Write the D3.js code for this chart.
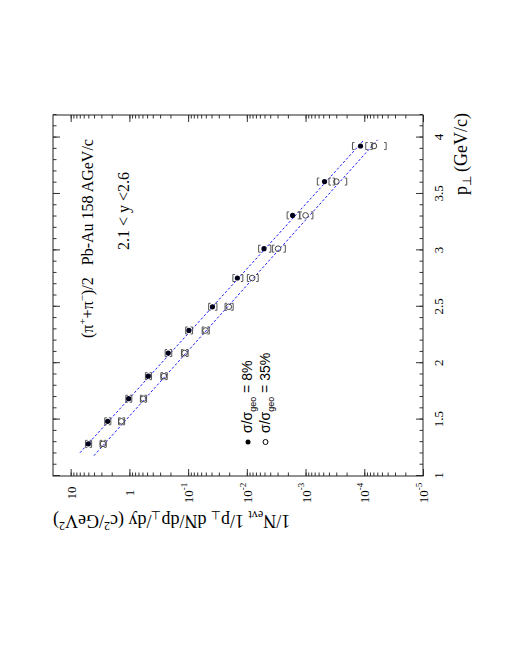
<!DOCTYPE html>
<html>
<head>
<meta charset="utf-8">
<script src="https://cdn.jsdelivr.net/npm/d3@7"></script>
<style>
body { margin: 0; background: #fff; }
svg text { font-family: "Liberation Serif", "Times New Roman", serif; fill: #000; }
.legend text { font-family: "Liberation Sans", Arial, sans-serif; }
</style>
</head>
<body>
<svg id="chart" width="510" height="660"></svg>
<script>
// transverse momentum of each bin (GeV/c)
var pt = [1.285, 1.485, 1.685, 1.885, 2.09, 2.29, 2.5, 2.755, 3.015, 3.31, 3.61, 3.925];

// sigma/sigma_geo = 8%
var yCentral   = [5.0, 2.35, 1.03, 0.477, 0.218, 0.097, 0.0385, 0.0145, 5.1e-3, 1.66e-3, 4.75e-4, 1.16e-4];
var errCentral = [0.60, 0.28, 0.12, 0.057, 0.028, 0.013, 0.0062, 0.0028, 1.2e-3, 4.0e-4, 1.55e-4, 4.3e-5];

// sigma/sigma_geo = 35%
var yPeriph   = [2.82, 1.37, 0.58, 0.259, 0.115, 0.0506, 0.0203, 8.1e-3, 2.94e-3, 1.0e-3, 2.99e-4, 6.84e-5];
var errPeriph = [0.34, 0.165, 0.07, 0.032, 0.015, 0.007, 0.0032, 1.7e-3, 7.3e-4, 2.5e-4, 1.0e-4, 2.6e-5];

// exponential fits (end points)
var fitPtCentral = [1.206, 3.97],  fitCentral = [6.95, 1.05e-4];
var fitPtPeriph  = [1.18, 3.98],   fitPeriph  = [4.02, 5.94e-5];

var xTicks = [1, 1.5, 2, 2.5, 3, 3.5, 4];
var yTicks = [1e-5, 1e-4, 1e-3, 1e-2, 1e-1, 1, 10];
var yTickLabels = [["10", "-5"], ["10", "-4"], ["10", "-3"], ["10", "-2"], ["10", "-1"], ["1", ""], ["10", ""]];

// the whole plot is drawn normally and then turned by -90 degrees
var frame = {left: 53, top: 115, right: 423, bottom: 476};
var width = frame.bottom - frame.top,
    height = frame.right - frame.left;

var svg = d3.select("#chart");
var chart = svg.append("g")
    .attr("transform", "translate(" + frame.left + "," + frame.bottom + ") rotate(-90)");

var xScale = d3.scaleLinear().domain([1, 4.2]).range([0, width]);
var yScale = d3.scaleLog().domain([1e-5, 20]).range([height, 0]);

var xMinor = xScale.ticks(32);
var yMinor = yScale.ticks().filter(function(d) { return d < 19.9; });

function clean(g) {
  g.attr("font-family", null).attr("font-size", null).attr("color", "#333");
  g.select(".domain").remove();
}

// p axis, bottom and mirrored top
chart.append("g").attr("transform", "translate(0," + height + ")")
    .call(d3.axisBottom(xScale).tickValues(xMinor).tickSizeInner(-3.5).tickSizeOuter(0).tickFormat(""))
    .call(clean);
chart.append("g").attr("transform", "translate(0," + height + ")")
    .call(d3.axisBottom(xScale).tickValues(xTicks).tickSizeInner(-7).tickSizeOuter(0).tickPadding(11)
      .tickFormat(function(d) { return d; }))
    .call(clean)
    .selectAll("text").style("font-size", "13px");
chart.append("g")
    .call(d3.axisTop(xScale).tickValues(xMinor).tickSizeInner(-3.5).tickSizeOuter(0).tickFormat(""))
    .call(clean);
chart.append("g")
    .call(d3.axisTop(xScale).tickValues(xTicks).tickSizeInner(-7).tickSizeOuter(0).tickFormat(""))
    .call(clean);

// log axis, left and mirrored right
chart.append("g")
    .call(d3.axisLeft(yScale).tickValues(yMinor).tickSizeInner(-3.5).tickSizeOuter(0).tickFormat(""))
    .call(clean);
var yAxisG = chart.append("g")
    .call(d3.axisLeft(yScale).tickValues(yTicks).tickSizeInner(-7).tickSizeOuter(0).tickFormat(""))
    .call(clean);
yAxisG.selectAll(".tick text").each(function(d, i) {
  var t = d3.select(this)
      .attr("x", -17)
      .attr("dy", "0.35em")
      .attr("text-anchor", "middle")
      .style("font-size", "13px");
  t.append("tspan").text(yTickLabels[i][0]);
  if (yTickLabels[i][1]) {
    t.append("tspan").attr("dy", "-0.7em").style("font-size", "9px").text(yTickLabels[i][1]);
  }
});
chart.append("g").attr("transform", "translate(" + width + ",0)")
    .call(d3.axisRight(yScale).tickValues(yMinor).tickSizeInner(-3.5).tickSizeOuter(0).tickFormat(""))
    .call(clean);
chart.append("g").attr("transform", "translate(" + width + ",0)")
    .call(d3.axisRight(yScale).tickValues(yTicks).tickSizeInner(-7).tickSizeOuter(0).tickFormat(""))
    .call(clean);

chart.append("rect")
    .attr("width", width)
    .attr("height", height)
    .attr("fill", "none")
    .attr("stroke", "#222")
    .attr("stroke-width", 1);

// fit lines
var line = d3.line()
    .x(function(d) { return xScale(d[0]); })
    .y(function(d) { return yScale(d[1]); });

[[fitPtCentral, fitCentral], [fitPtPeriph, fitPeriph]].forEach(function(f) {
  chart.append("path")
      .datum(f[0].map(function(p, i) { return [p, f[1][i]]; }))
      .attr("d", line)
      .attr("fill", "none")
      .attr("stroke", "#1a1aff")
      .attr("stroke-width", 1)
      .attr("stroke-dasharray", "2.5,2");
});

// data points with bracket errors
function drawSeries(values, errs, filled) {
  var pts = values.map(function(v, i) { return {p: pt[i], v: v, e: errs[i]}; });
  var g = chart.append("g");

  g.selectAll(".bracket")
      .data(pts)
    .enter().append("path")
      .attr("class", "bracket")
      .attr("fill", "none")
      .attr("stroke", "#555")
      .attr("stroke-width", 1)
      .attr("d", function(d) {
        var x = xScale(d.p), y1 = yScale(d.v + d.e), y2 = yScale(d.v - d.e);
        return "M" + (x - 3.5) + "," + (y1 + 2) + "V" + y1 + "H" + (x + 3.5) + "V" + (y1 + 2) +
               "M" + (x - 3.5) + "," + (y2 - 2) + "V" + y2 + "H" + (x + 3.5) + "V" + (y2 - 2);
      });

  g.selectAll(".dot")
      .data(pts)
    .enter().append("circle")
      .attr("class", "dot")
      .attr("cx", function(d) { return xScale(d.p); })
      .attr("cy", function(d) { return yScale(d.v); })
      .attr("r", filled ? 2.6 : 2.8)
      .attr("fill", filled ? "#000018" : "none")
      .attr("stroke", filled ? "none" : "#444")
      .attr("stroke-width", 1);
}

drawSeries(yCentral, errCentral, true);
drawSeries(yPeriph, errPeriph, false);

// axis titles
var xTitle = chart.append("text")
    .attr("x", 363)
    .attr("y", height + 44)
    .attr("text-anchor", "end")
    .style("font-size", "18px");
xTitle.append("tspan").text("p");
xTitle.append("tspan").attr("dy", 4).style("font-size", "12px").text("\u22a5");
xTitle.append("tspan").attr("dy", -4).attr("dx", 4).text("(GeV/c)");

var yTitle = chart.append("text")
    .attr("transform", "rotate(-90)")
    .attr("x", 0)
    .attr("y", -39)
    .attr("text-anchor", "end")
    .style("font-size", "18px");
[["1/N", 0], ["evt", 1], [" 1/p", -1], ["\u22a5", 1], [" dN/dp", -1], ["\u22a5", 1],
 ["/dy (c", -1], ["2", 2], ["/GeV", -2], ["2", 2], [")", -2]].forEach(function(s) {
  var sub = s[1] === 1, sup = s[1] === 2;
  var dy = sub ? 4 : sup ? -7 : s[1] === -1 ? -4 : s[1] === -2 ? 7 : 0;
  yTitle.append("tspan")
      .attr("dy", dy)
      .style("font-size", (sub || sup) ? "12px" : null)
      .text(s[0]);
});

// annotations
var ann1 = chart.append("text")
    .attr("x", 138)
    .attr("y", 40)
    .style("font-size", "16px");
ann1.append("tspan").text("(\u03c0");
ann1.append("tspan").attr("dy", -7).style("font-size", "11px").text("+");
ann1.append("tspan").attr("dy", 7).text("+\u03c0");
ann1.append("tspan").attr("dy", -7).style("font-size", "11px").text("\u2212");
ann1.append("tspan").attr("dy", 7).text(")/2");
ann1.append("tspan").attr("dx", 12).text("Pb-Au 158 AGeV/c");

chart.append("text")
    .attr("x", 226)
    .attr("y", 76)
    .style("font-size", "16px")
    .text("2.1 < y <2.6");

// legend
var legend = chart.append("g").attr("class", "legend");
[["8%", true], ["35%", false]].forEach(function(l, i) {
  var base = 199 + i * 17.5;
  legend.append("circle")
      .attr("cx", 34)
      .attr("cy", base - 4)
      .attr("r", 2.5)
      .attr("fill", l[1] ? "#000" : "none")
      .attr("stroke", l[1] ? "none" : "#000");
  var t = legend.append("text")
      .attr("x", 43)
      .attr("y", base)
      .style("font-size", "14px");
  t.append("tspan").text("\u03c3/\u03c3");
  t.append("tspan").attr("dy", 4).style("font-size", "9px").text("geo");
  t.append("tspan").attr("dy", -4).text(" = " + l[0]);
});
</script>
</body>
</html>
